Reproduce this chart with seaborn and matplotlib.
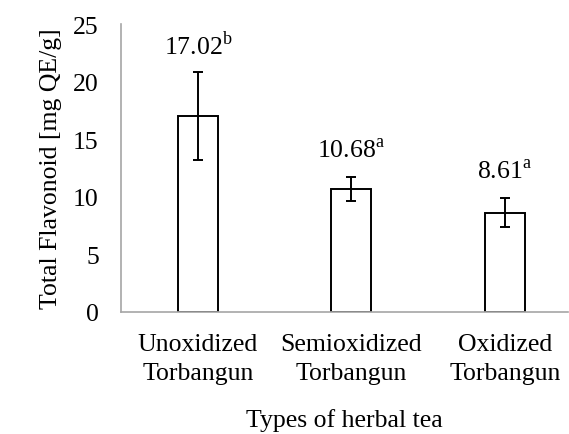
import matplotlib
import pandas as pd
import seaborn as sns

matplotlib.use("Agg")
import matplotlib.pyplot as plt

categories = ["Unoxidized\nTorbangun", "Semioxidized\nTorbangun", "Oxidized\nTorbangun"]
means = [17.02, 10.68, 8.61]
errors = [3.85, 1.08, 1.26]
letters = ["b", "a", "a"]

df = pd.DataFrame({"tea": categories, "flavonoid": means})

sns.set_theme(style="white")
plt.rcParams["font.family"] = ["Liberation Serif", "DejaVu Serif"]
plt.rcParams["mathtext.fontset"] = "custom"
plt.rcParams["mathtext.rm"] = "Liberation Serif"
for k in ["text.color", "axes.labelcolor", "xtick.color", "ytick.color"]:
    plt.rcParams[k] = "black"

FS = 18.5

fig = plt.figure(figsize=(5.69, 4.35), dpi=100)
ax = fig.add_axes([121 / 569, 122 / 435, 447 / 569, 288 / 435])

sns.barplot(data=df, x="tea", y="flavonoid", ax=ax, color="white",
            edgecolor="black", linewidth=1.4, width=0.26, errorbar=None)
ax.errorbar(range(len(means)), means, yerr=errors, fmt="none",
            ecolor="black", elinewidth=1.4, capsize=3.5, capthick=1.4)

for i, (m, e, l) in enumerate(zip(means, errors, letters)):
    ax.text(i, m + e + 2.3, f"{m:.2f}$^{{\\mathrm{{{l}}}}}$", ha="center",
            va="center", fontsize=FS)

ax.set_xlim(-0.5, 2.41)
ax.set_ylim(0, 25)
ax.set_yticks([0, 5, 10, 15, 20, 25])
ax.tick_params(axis="both", length=0, labelsize=FS)
ax.tick_params(axis="y", pad=16)
ax.tick_params(axis="x", pad=15)
plt.setp(ax.get_xticklabels(), linespacing=1.45)
for s in ["top", "right"]:
    ax.spines[s].set_visible(False)
for s in ["left", "bottom"]:
    ax.spines[s].set_color("#a6a6a6")
    ax.spines[s].set_linewidth(1.2)
ax.set_xlabel("Types of herbal tea", fontsize=FS, labelpad=17)
ax.set_ylabel("Total Flavonoid [mg QE/g]", fontsize=FS, labelpad=8)

fig.savefig("out.png", dpi=100)
